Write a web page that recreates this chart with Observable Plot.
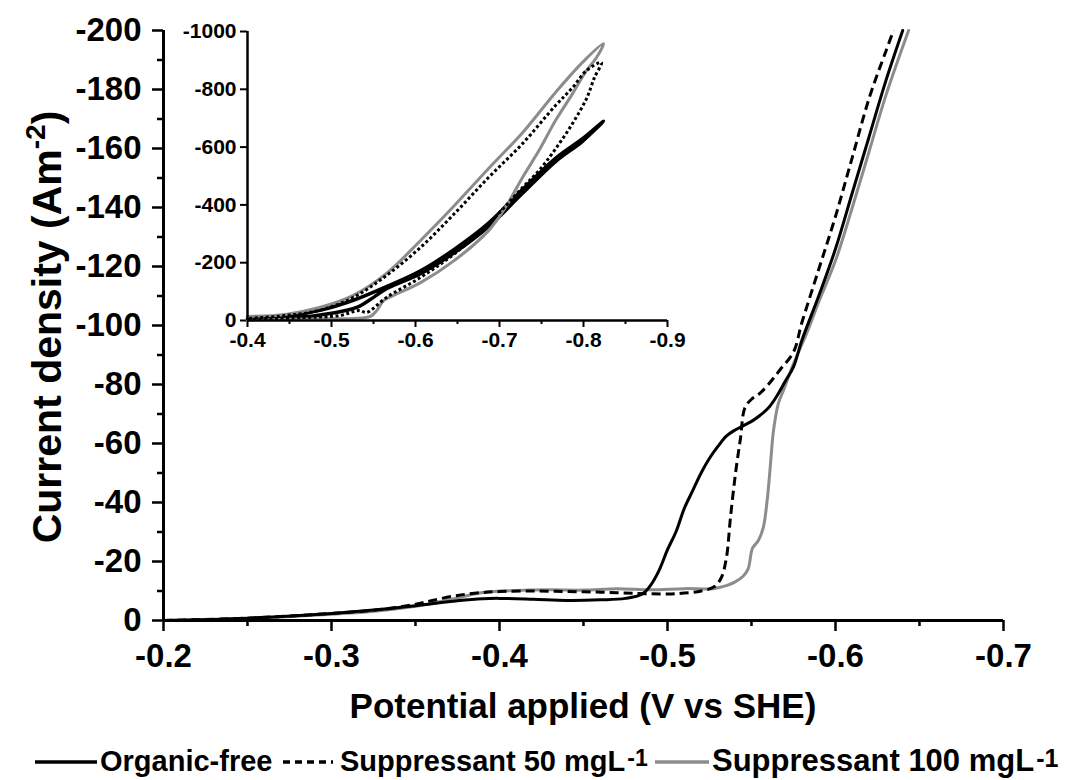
<!DOCTYPE html>
<html><head><meta charset="utf-8">
<script src="https://cdn.jsdelivr.net/npm/d3@7"></script>
<script src="https://cdn.jsdelivr.net/npm/@observablehq/plot@0.6"></script>
<style>
body{margin:0;background:#fff;font-family:"Liberation Sans",Arial,sans-serif;}
#wrap{position:relative;width:1085px;height:780px;overflow:hidden;}
#inset{position:absolute;left:175px;top:19px;}
#legend{position:absolute;left:0;top:743px;width:1085px;height:36px;font-weight:bold;}
.item{position:absolute;top:0;height:36px;line-height:36px;display:flex;align-items:center;white-space:nowrap;}
.item sup{position:relative;top:-3px;margin-left:2px;line-height:1;}
</style></head><body>
<div id="wrap"><div id="main"></div><div id="inset"></div><div id="legend"></div></div>
<script>
// ---------- Main chart data (V vs SHE, A m^-2) ----------
const organicV = [-0.20,-0.25,-0.30,-0.33,-0.35,-0.375,-0.39,-0.40,-0.42,-0.44,-0.46,-0.475,-0.485,-0.49,-0.495,-0.50,-0.505,-0.51,-0.515,-0.52,-0.525,-0.53,-0.535,-0.54,-0.545,-0.55,-0.555,-0.56,-0.565,-0.57,-0.575,-0.58,-0.59,-0.60,-0.61,-0.62,-0.63,-0.64];
const organicJ = [0,-0.8,-2.4,-3.8,-5,-6.7,-7.4,-7.5,-7.2,-6.8,-7,-7.5,-9,-12,-17,-24,-30,-38,-44,-50,-55,-59,-62.5,-64.5,-66,-67.5,-69.5,-72,-76,-81,-86,-95,-110,-126,-145,-164,-183,-200];

const supp50V = [-0.20,-0.25,-0.30,-0.33,-0.35,-0.36,-0.375,-0.39,-0.40,-0.42,-0.44,-0.46,-0.48,-0.50,-0.51,-0.52,-0.528,-0.532,-0.535,-0.5375,-0.5405,-0.5435,-0.546,-0.55,-0.555,-0.56,-0.567,-0.575,-0.58,-0.59,-0.60,-0.61,-0.62,-0.63,-0.6345];
const supp50J = [0,-0.8,-2.4,-3.8,-5.5,-6.8,-8.5,-9.5,-9.8,-10,-9.8,-9.6,-9.2,-9,-9.3,-10,-11.5,-14.5,-21,-35,-50,-62,-72,-75,-77,-80,-85,-91,-101,-119,-137,-157,-177,-193,-200];

const supp100V = [-0.20,-0.25,-0.30,-0.33,-0.35,-0.36,-0.37,-0.39,-0.41,-0.43,-0.45,-0.47,-0.49,-0.51,-0.527,-0.535,-0.54,-0.545,-0.548,-0.5506,-0.554,-0.557,-0.5595,-0.5613,-0.5631,-0.566,-0.569,-0.575,-0.5833,-0.59,-0.60,-0.61,-0.62,-0.63,-0.6435];
const supp100J = [0,-0.7,-2.1,-3.4,-4.8,-5.8,-7,-9.5,-10.2,-10.4,-10.3,-10.8,-10.4,-10.8,-10.8,-11.8,-13,-15,-17.5,-24.5,-27,-31.5,-41.7,-53,-64.4,-73.6,-78,-87,-98,-108,-122,-140,-159,-178,-200];

// ---------- Inset data (cyclic scans: forward then reverse) ----------
const insetOrganicV = [-0.40,-0.45,-0.50,-0.53,-0.55,-0.5655,-0.606,-0.6464,-0.687,-0.7274,-0.7667,-0.7988,-0.8238,-0.80,-0.767,-0.727,-0.687,-0.646,-0.606,-0.566,-0.526,-0.486,-0.445,-0.40];
const insetOrganicJ = [-5,-8,-25,-45,-80,-110,-162,-235,-325,-440,-550,-620,-690,-632,-562,-452,-337,-246,-172,-118,-70,-35,-15,-8];

const insetSupp50V = [-0.40,-0.4655,-0.5095,-0.5333,-0.5417,-0.5655,-0.606,-0.6464,-0.687,-0.7274,-0.747,-0.767,-0.787,-0.8036,-0.8131,-0.8214,-0.8036,-0.787,-0.7667,-0.7274,-0.687,-0.6464,-0.606,-0.5655,-0.526,-0.4857,-0.4452,-0.40];
const insetSupp50J = [-3,-10,-17,-35,-28,-80,-149,-231,-335,-460,-519,-595,-682,-768,-841,-893,-865,-806,-744,-612,-495,-370,-253,-156,-80,-35,-17,-7];

const insetSupp100V = [-0.40,-0.4857,-0.526,-0.5464,-0.554,-0.562,-0.574,-0.606,-0.6464,-0.687,-0.707,-0.7274,-0.747,-0.7667,-0.787,-0.8036,-0.8155,-0.8238,-0.7988,-0.7667,-0.7274,-0.687,-0.6464,-0.606,-0.5655,-0.526,-0.4857,-0.4452,-0.40];
const insetSupp100J = [-2,-6,-7,-14,-35,-69,-87,-131,-208,-311,-391,-495,-588,-692,-785,-865,-910,-958,-893,-789,-650,-526,-398,-277,-163,-87,-45,-21,-14];

// ---------- Ticks ----------
const xMajor = [-0.2,-0.3,-0.4,-0.5,-0.6,-0.7];
const xMinor = [-0.25,-0.35,-0.45,-0.55,-0.65];
const yMajor = [0,-20,-40,-60,-80,-100,-120,-140,-160,-180,-200];
const yMinor = [-10,-30,-50,-70,-90,-110,-130,-150,-170,-190];
const insetXMajor = [-0.4,-0.5,-0.6,-0.7,-0.8,-0.9];
const insetXMinor = [-0.45,-0.55,-0.65,-0.75,-0.85];
const insetYMajor = [0,-200,-400,-600,-800,-1000];

const seriesNames = ["Organic-free","Suppressant 50 mgL","Suppressant 100 mgL"];
const gray = "#8c8c8c";

const rows = (V, J) => V.map((v, i) => ({V: v, J: J[i]}));

const font = '"Liberation Sans", Arial, sans-serif';

const main = Plot.plot({
  width: 1085, height: 743,
  marginLeft: 163, marginRight: 82, marginTop: 30, marginBottom: 123,
  style: {fontFamily: font, fontSize: "33px", fontWeight: "bold", background: "transparent", overflow: "visible", color: "#000"},
  x: {domain: [-0.2, -0.7]},
  y: {domain: [0, -200]},
  marks: [
    Plot.axisX({ticks: xMinor, tickSize: 6, tickFormat: () => "", strokeWidth: 2.5, label: null}),
    Plot.axisX({ticks: xMajor, tickSize: 11, tickPadding: 12, tickFormat: d => d.toFixed(1), strokeWidth: 2.5, label: null}),
    Plot.axisY({ticks: yMinor, tickSize: 6, tickFormat: () => "", strokeWidth: 2.5, label: null}),
    Plot.axisY({ticks: yMajor, tickSize: 11, tickPadding: 11, tickFormat: d => String(d), strokeWidth: 2.5, label: null}),
    Plot.line(rows(supp100V, supp100J), {x: "V", y: "J", stroke: gray, strokeWidth: 3, curve: "catmull-rom"}),
    Plot.line(rows(organicV, organicJ), {x: "V", y: "J", stroke: "#000", strokeWidth: 3, curve: "catmull-rom"}),
    Plot.line(rows(supp50V, supp50J), {x: "V", y: "J", stroke: "#000", strokeWidth: 3, strokeDasharray: "9,5", strokeLinecap: "butt", curve: "catmull-rom"}),
    Plot.ruleX([-0.2], {strokeWidth: 3}),
    Plot.ruleY([0], {strokeWidth: 3})
  ]
});
document.getElementById("main").appendChild(main);

const svg = d3.select(main);
svg.append("text")
  .attr("x", 583).attr("y", 718).attr("text-anchor", "middle")
  .style("font-size", "35px").attr("fill", "#000")
  .text("Potential applied (V vs SHE)");
const yt = svg.append("text")
  .attr("transform", "translate(61,327) rotate(-90)").attr("text-anchor", "middle")
  .style("font-size", "41px").attr("fill", "#000");
yt.append("tspan").text("Current density (Am");
yt.append("tspan").attr("dy", -16).style("font-size", "28px").text("-2");
yt.append("tspan").attr("dy", 16).text(")");

const inset = Plot.plot({
  width: 512, height: 333,
  marginLeft: 72, marginRight: 20, marginTop: 12, marginBottom: 32,
  style: {fontFamily: font, fontSize: "21px", fontWeight: "bold", background: "transparent", overflow: "visible", color: "#000"},
  x: {domain: [-0.4, -0.9]},
  y: {domain: [0, -1000]},
  marks: [
    Plot.axisX({ticks: insetXMinor, tickSize: 4, tickFormat: () => "", strokeWidth: 2, label: null}),
    Plot.axisX({ticks: insetXMajor, tickSize: 7, tickPadding: 5, tickFormat: d => d.toFixed(1), strokeWidth: 2, label: null}),
    Plot.axisY({ticks: insetYMajor, tickSize: 7, tickPadding: 4, tickFormat: d => String(d), strokeWidth: 2, label: null}),
    Plot.line(rows(insetOrganicV, insetOrganicJ), {x: "V", y: "J", stroke: "#000", strokeWidth: 3.5, curve: "catmull-rom"}),
    Plot.line(rows(insetSupp100V, insetSupp100J), {x: "V", y: "J", stroke: gray, strokeWidth: 3, curve: "catmull-rom"}),
    Plot.line(rows(insetSupp50V, insetSupp50J), {x: "V", y: "J", stroke: "#000", strokeWidth: 3, strokeDasharray: "3,2.5", strokeLinecap: "butt", curve: "catmull-rom"}),
    Plot.ruleX([-0.4], {strokeWidth: 2.5}),
    Plot.ruleY([0], {strokeWidth: 2.5})
  ]
});
document.getElementById("inset").appendChild(inset);

// ---------- Legend ----------
const legend = d3.select("#legend");
const legendItems = [
  {name: seriesNames[0], sup: null, stroke: "#000", dash: null, lineLeft: 35, lineW: 62, textLeft: 100, size: 29},
  {name: seriesNames[1], sup: "-1", stroke: "#000", dash: "7,5", lineLeft: 283, lineW: 50, textLeft: 340, size: 29},
  {name: seriesNames[2], sup: "-1", stroke: gray, dash: null, lineLeft: 655, lineW: 54, textLeft: 712, size: 31}
];
legendItems.forEach(it => {
  const sw = legend.append("div").attr("class", "item").style("left", it.lineLeft + "px");
  const s = sw.append("svg").attr("width", it.lineW).attr("height", 10);
  s.append("line").attr("x1", 0).attr("x2", it.lineW).attr("y1", 6).attr("y2", 6)
    .attr("stroke", it.stroke).attr("stroke-width", 3.5)
    .attr("stroke-dasharray", it.dash);
  const t = legend.append("div").attr("class", "item").style("left", it.textLeft + "px").style("font-size", it.size + "px");
  t.append("span").text(it.name);
  if (it.sup) t.append("sup").style("font-size", Math.round(it.size * 0.8) + "px").text(it.sup);
});
</script>
</body></html>
